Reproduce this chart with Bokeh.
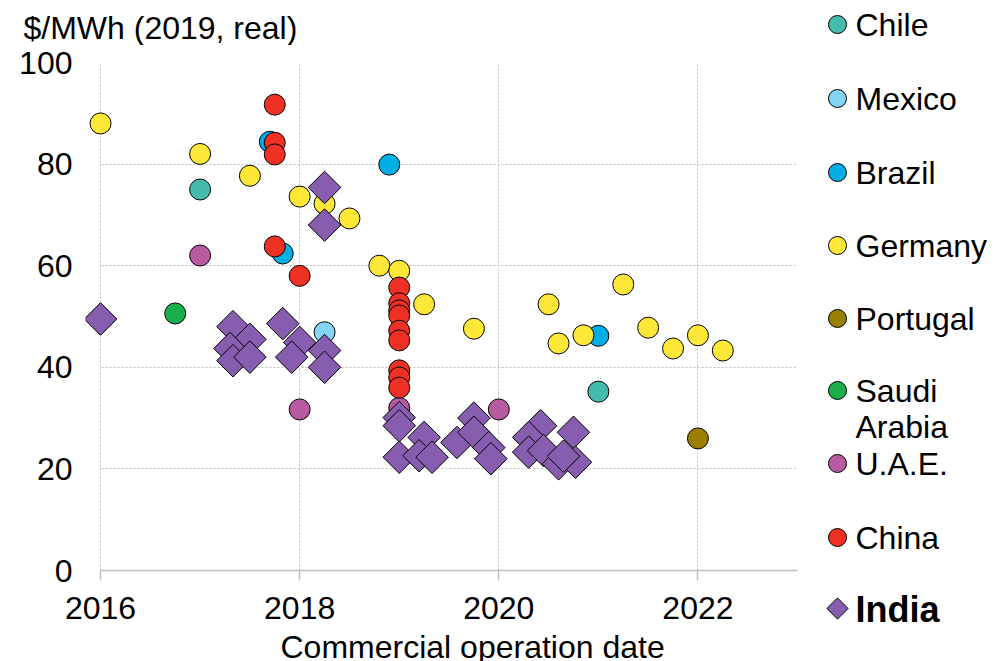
import numpy as np
from bokeh.plotting import figure
from bokeh.models import FixedTicker, Range1d, BoxAnnotation
from bokeh.layouts import row, column
from bokeh.embed import file_html
from bokeh.resources import INLINE
from bokeh.core.properties import value

FONT = "Liberation Sans"

# ---- data (commercial operation date, $/MWh 2019 real) ----
chile_x = [2017.0, 2021.0]
chile_y = [75.0, 35.2]

mexico_x = [2018.25]
mexico_y = [46.9]

brazil_x = [2017.7, 2017.83, 2018.9, 2021.0]
brazil_y = [84.4, 62.4, 79.9, 46.2]

germany_x = [2016.0, 2017.0, 2017.5, 2018.0, 2018.25, 2018.5, 2018.8, 2019.0, 2019.25,
             2019.75, 2020.5, 2020.6, 2020.85, 2021.25, 2021.5, 2021.75, 2022.0, 2022.25]
germany_y = [88.0, 82.0, 77.7, 73.6, 72.2, 69.3, 60.0, 59.0, 52.4,
             47.6, 52.4, 44.7, 46.3, 56.3, 47.8, 43.7, 46.3, 43.3]

portugal_x = [2022.0]
portugal_y = [26.0]

saudi_x = [2016.75]
saudi_y = [50.6]

uae_x = [2017.0, 2018.0, 2019.0, 2020.0]
uae_y = [62.0, 31.7, 32.0, 31.7]

china_x = [2017.75, 2017.75, 2017.75, 2017.75, 2018.0, 2019.0, 2019.0, 2019.0, 2019.0,
           2019.0, 2019.0, 2019.0, 2019.0, 2019.0]
china_y = [91.7, 84.2, 81.9, 63.8, 58.0, 55.7, 52.6, 51.2, 50.2,
           47.2, 45.3, 39.4, 38.0, 36.0]

india_x = [2016.0, 2017.33, 2017.5, 2017.3, 2017.33, 2017.5, 2017.83, 2018.0, 2017.92,
           2018.25, 2018.25, 2018.25, 2018.25,
           2019.0, 2019.0, 2019.0, 2019.25, 2019.2, 2019.33, 2019.58, 2019.75, 2019.75,
           2019.9, 2019.92,
           2020.42, 2020.3, 2020.3, 2020.45, 2020.6, 2020.75, 2020.77, 2020.65]
india_y = [49.5, 48.0, 45.5, 43.7, 41.3, 42.0, 48.6, 44.9, 42.0,
           43.3, 40.0, 75.4, 68.0,
           30.1, 28.5, 22.3, 26.2, 22.6, 22.3, 25.2, 30.0, 27.2,
           24.2, 22.0,
           28.5, 26.2, 23.3, 23.6, 21.0, 27.2, 21.3, 22.5]

countries = ["Chile", "Mexico", "Brazil", "Germany", "Portugal", "Saudi Arabia", "U.A.E.", "China", "India"]
colors = ["#45BBAB", "#83D4F5", "#00AEE6", "#FFE838", "#9A7F00", "#1BAF4C", "#B85AA0", "#EE3124", "#875DB0"]
series_x = [chile_x, mexico_x, brazil_x, germany_x, portugal_x, saudi_x, uae_x, china_x, india_x]
series_y = [chile_y, mexico_y, brazil_y, germany_y, portugal_y, saudi_y, uae_y, china_y, india_y]

x_ticks = [2016, 2018, 2020, 2022]
y_ticks = [0, 20, 40, 60, 80, 100]
y_title = "$/MWh (2019, real)"
x_title = "Commercial operation date"

GRID = "#BFBFBF"
FS = "32px"

# ---- top strip with the unit title (pixel coordinates) ----
top = figure(width=810, height=45, x_range=Range1d(0, 810), y_range=Range1d(45, 0),
             output_backend="svg", toolbar_location=None, min_border=0,
             x_axis_location=None, y_axis_location=None)
top.grid.visible = False
top.outline_line_color = None
top.text([23], [27], text=[y_title], text_font=value(FONT), text_font_size=FS,
         text_baseline="middle", text_align="left", text_color="black")

# ---- main chart ----
p = figure(width=810, height=588, x_range=Range1d(2015.849, 2023), y_range=Range1d(0, 100),
           output_backend="svg", toolbar_location=None,
           min_border_left=85, min_border_right=13, min_border_top=17, min_border_bottom=63)
p.outline_line_color = None

# hide horizontal grid lines left of the first year (frame is widened so edge markers are not cut)
p.add_layout(BoxAnnotation(left=2015.0, right=2015.993, bottom=-20, top=120,
                           fill_color="white", fill_alpha=1.0, line_alpha=0, level="underlay"))

for name, col, xs, ys in zip(countries, colors, series_x, series_y):
    if name == "India":
        p.scatter(xs, ys, marker="square", angle=np.pi / 4, size=23, fill_color=col,
                  line_color="black", line_width=1)
    else:
        p.scatter(xs, ys, marker="circle", size=21, fill_color=col,
                  line_color="black", line_width=1)

p.xaxis.ticker = FixedTicker(ticks=x_ticks)
p.yaxis.ticker = FixedTicker(ticks=y_ticks)
p.xaxis.bounds = (2016, 2023)
for ax in (p.xaxis, p.yaxis):
    ax.major_label_text_font = FONT
    ax.major_label_text_font_size = FS
    ax.major_label_text_color = "black"
    ax.minor_tick_line_color = None
p.xaxis.axis_line_color = GRID
p.xaxis.axis_line_width = 1.5
p.xaxis.major_tick_line_color = GRID
p.xaxis.major_tick_line_width = 1.5
p.xaxis.major_tick_out = 10
p.xaxis.major_tick_in = 0
p.xaxis.major_label_standoff = 16
p.yaxis.axis_line_color = None
p.yaxis.major_tick_line_color = None
p.yaxis.major_tick_out = 0
p.yaxis.major_tick_in = 0
p.yaxis.major_label_standoff = 13

for g in (p.xgrid, p.ygrid):
    g.grid_line_color = GRID
    g.grid_line_dash = "2 2"
    g.grid_line_width = 1

# ---- bottom strip with the x title (pixel coordinates) ----
bot = figure(width=810, height=28, x_range=Range1d(0, 810), y_range=Range1d(28, 0),
             output_backend="svg", toolbar_location=None, min_border=0,
             x_axis_location=None, y_axis_location=None)
bot.grid.visible = False
bot.outline_line_color = None
bot.text([280], [13.5], text=[x_title], text_font=value(FONT), text_font_size=FS,
         text_baseline="middle", text_align="left", text_color="black")

# ---- legend panel (pixel coordinates, y downwards) ----
lf = figure(width=197, height=661, x_range=Range1d(0, 197), y_range=Range1d(661, 0),
            output_backend="svg", toolbar_location=None, min_border=0,
            x_axis_location=None, y_axis_location=None)
lf.grid.visible = False
lf.outline_line_color = None

row_y = [24, 98, 172, 245, 318, 390, 463, 537, 608]
mark_x = 27
text_x = 45
for name, col, yy in zip(countries, colors, row_y):
    if name == "India":
        lf.scatter([mark_x], [yy], marker="square", angle=np.pi / 4, size=15, fill_color=col,
                   line_color="black", line_width=1)
        lf.text([text_x], [yy + 1], text=[name], text_font=value(FONT), text_font_size="36px",
                text_font_style="bold", text_baseline="middle", text_align="left", text_color="black")
    else:
        lf.scatter([mark_x], [yy], marker="circle", size=18, fill_color=col,
                   line_color="black", line_width=1)
        for i, part in enumerate(name.split(" ") if name == "Saudi Arabia" else [name]):
            lf.text([text_x], [yy + 36 * i], text=[part], text_font=value(FONT),
                    text_font_size=FS, text_baseline="middle", text_align="left",
                    text_color="black")

layout = row(column(column(top), p, column(bot)), column(lf))
open("out.html", "w").write(file_html(layout, INLINE))
